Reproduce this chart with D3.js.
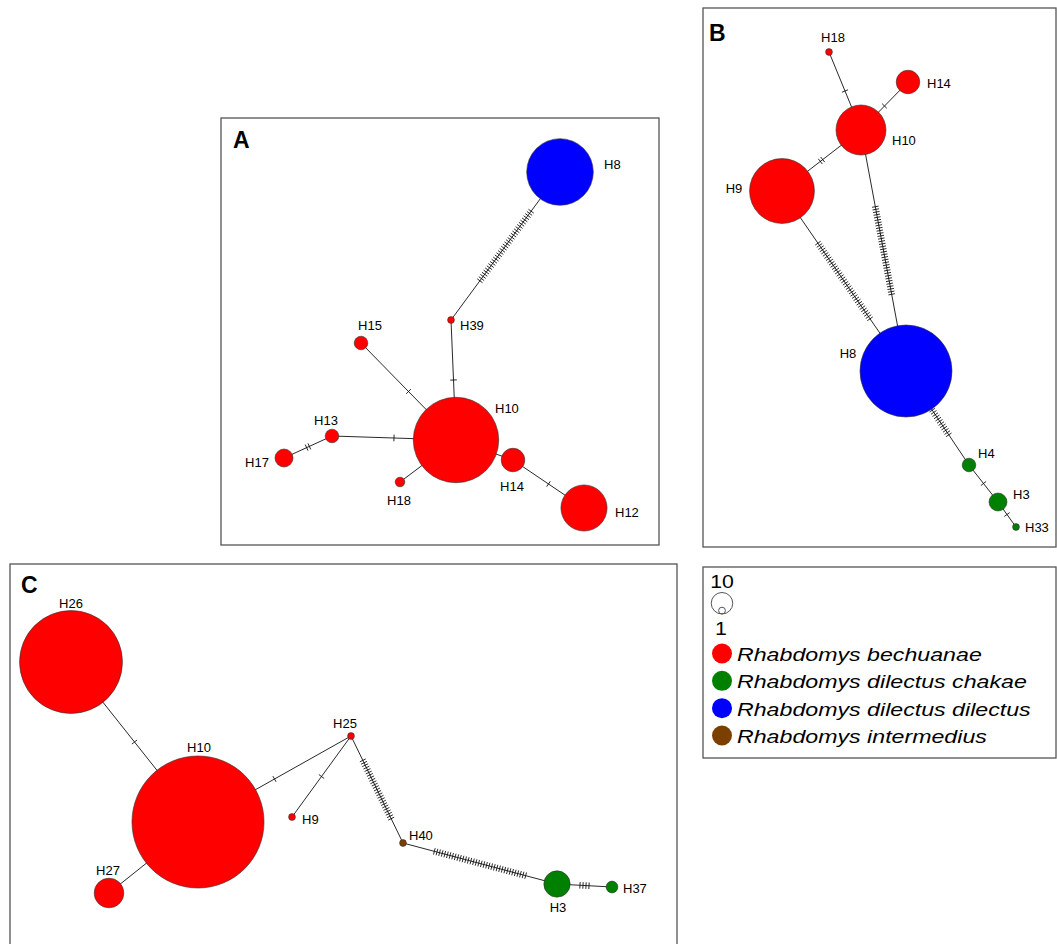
<!DOCTYPE html>
<html><head><meta charset="utf-8">
<script src="https://cdn.jsdelivr.net/npm/d3@7"></script>
<style>body{margin:0;background:#fff}svg{display:block}text{font-family:Arial,"Liberation Sans",sans-serif}</style>
</head><body><svg id="chart" width="1057" height="944"></svg>
<script>
// ---------- DATA ----------
const species = ["Rhabdomys bechuanae","Rhabdomys dilectus chakae","Rhabdomys dilectus dilectus","Rhabdomys intermedius"];
const speciesColors = ["#ff0000","#008000","#0000ff","#7b3f00"];
const sizeLegendValues = [10, 1];
const panelNames = ["A","B","C"];

// Panel A
const haplotypesA = ["H8","H39","H15","H10","H13","H17","H18","H14","H12"];
const speciesA    = [2,0,0,0,0,0,0,0,0];
const countsA     = [96,1,4,158,4,7,2,12,46];
const edgesA      = [["H8","H39",33],["H39","H10",1],["H15","H10",1],["H13","H10",1],["H17","H13",2],["H18","H10",1],["H14","H10",1],["H14","H12",1]];

// Panel B
const haplotypesB = ["H18","H14","H10","H9","H8","H4","H3","H33"];
const speciesB    = [0,0,0,0,2,1,1,1];
const countsB     = [1,12,54,91,183,4,7,1];
const edgesB      = [["H18","H10",1],["H14","H10",1],["H9","H10",2],["H9","H8",35],["H10","H8",34],["H8","H4",16],["H4","H3",1],["H3","H33",1]];

// Panel C
const haplotypesC = ["H26","H10","H27","H25","H9","H40","H3","H37"];
const speciesC    = [0,0,0,0,0,3,1,1];
const countsC     = [229,377,19,1,1,1,15,3];
const edgesC      = [["H26","H10",1],["H27","H10",1],["H10","H25",1],["H9","H25",1],["H25","H40",25],["H40","H3",36],["H3","H37",4]];

// ---------- LAYOUT (network layout units, relative to each panel frame) ----------
const frames = {
  A: {x:221, y:118, w:438, h:427, letter:[12,30]},
  B: {x:703, y:8,   w:353, h:539, letter:[6,33]},
  C: {x:10,  y:564, w:667, h:420, letter:[11,29]},
  L: {x:703, y:567, w:353, h:191}
};
const layoutA = {H8:[339,54],H39:[230,202],H15:[140,225],H10:[235,322],H13:[111,318],H17:[63,340],H18:[179,364],H14:[292,342],H12:[363,390]};
const labelA  = {H8:[44,-3,"start"],H39:[9,10,"start"],H15:[9,-13,"middle"],H10:[39,-27,"start"],H13:[-6,-11,"middle"],H17:[-27,9,"middle"],H18:[-1,23,"middle"],H14:[-1,31,"middle"],H12:[31,9,"start"]};
const layoutB = {H18:[126,44],H14:[205,74],H10:[158,122],H9:[79,183],H8:[203,363],H4:[266,457],H3:[295,494],H33:[313,519]};
const labelB  = {H18:[4,-10,"middle"],H14:[19,6,"start"],H10:[31,15,"start"],H9:[-48,2,"middle"],H8:[-58,-13,"middle"],H4:[9,-7,"start"],H3:[15,-3,"start"],H33:[9,5,"start"]};
const layoutC = {H26:[61,98],H10:[188,258],H27:[99,329],H25:[341,172],H9:[282,253],H40:[393,279],H3:[547,320],H37:[602,323]};
const labelC  = {H26:[0,-54,"middle"],H10:[1,-70,"middle"],H27:[-1,-18,"middle"],H25:[-6,-8,"middle"],H9:[10,7,"start"],H40:[6,-3,"start"],H3:[1,28,"middle"],H37:[11,6,"start"]};

// ---------- SCALES ----------
const color = d3.scaleOrdinal().domain(species).range(speciesColors);
const rScale = d3.scaleSqrt().domain([0, 400]).range([0, 3.4*Math.sqrt(400)]);

const svg = d3.select("#chart");

function drawPanel(name, haps, spIdx, counts, edges, layout, labels) {
  const f = frames[name];
  const xs = d3.scaleLinear().domain([0, f.w]).range([f.x, f.x + f.w]);
  const ys = d3.scaleLinear().domain([0, f.h]).range([f.y, f.y + f.h]);
  const g = svg.append("g");
  g.append("rect").attr("x", f.x).attr("y", f.y).attr("width", f.w).attr("height", f.h)
    .attr("fill", "none").attr("stroke", "#555").attr("stroke-width", 1.3);
  const nodes = haps.map((h, i) => ({id: h, sp: species[spIdx[i]], n: counts[i],
    x: xs(layout[h][0]), y: ys(layout[h][1]), lab: labels[h]}));
  const byId = Object.fromEntries(nodes.map(d => [d.id, d]));
  const links = edges.map(e => ({s: byId[e[0]], t: byId[e[1]], m: e[2]}));
  g.selectAll("line.edge").data(links).join("line").attr("class","edge")
    .attr("x1", d => d.s.x).attr("y1", d => d.s.y).attr("x2", d => d.t.x).attr("y2", d => d.t.y)
    .attr("stroke", "#111").attr("stroke-width", 0.9);
  // mutation hatch marks
  const ticks = [];
  links.forEach(l => {
    const dx = l.t.x - l.s.x, dy = l.t.y - l.s.y, len = Math.hypot(dx, dy);
    const ux = dx/len, uy = dy/len, nx = -uy, ny = ux;
    const mx = (l.s.x + l.t.x)/2, my = (l.s.y + l.t.y)/2;
    const sp = l.m > 4 ? 2.7 : 3, h = 3.3;
    for (let i = 0; i < l.m; i++) {
      const t = (i - (l.m - 1)/2) * sp;
      ticks.push({x1: mx + t*ux - h*nx, y1: my + t*uy - h*ny, x2: mx + t*ux + h*nx, y2: my + t*uy + h*ny});
    }
  });
  g.selectAll("line.tick").data(ticks).join("line").attr("class","tick")
    .attr("x1", d => d.x1).attr("y1", d => d.y1).attr("x2", d => d.x2).attr("y2", d => d.y2)
    .attr("stroke", "#111").attr("stroke-width", 0.9);
  g.selectAll("circle").data(nodes).join("circle")
    .attr("cx", d => d.x).attr("cy", d => d.y).attr("r", d => rScale(d.n))
    .attr("fill", d => color(d.sp)).attr("stroke", "#333").attr("stroke-width", 0.6);
  g.selectAll("text.lab").data(nodes).join("text").attr("class","lab")
    .attr("x", d => d.x + d.lab[0]).attr("y", d => d.y + d.lab[1])
    .attr("text-anchor", d => d.lab[2]).attr("font-size", 13).attr("fill", "#000").text(d => d.id);
  g.append("text").attr("x", f.x + f.letter[0]).attr("y", f.y + f.letter[1])
    .attr("font-size", 23).attr("font-weight", "bold").attr("fill", "#000").text(name);
}

drawPanel("A", haplotypesA, speciesA, countsA, edgesA, layoutA, labelA);
drawPanel("B", haplotypesB, speciesB, countsB, edgesB, layoutB, labelB);
drawPanel("C", haplotypesC, speciesC, countsC, edgesC, layoutC, labelC);

// ---------- LEGEND ----------
const L = frames.L;
const lg = svg.append("g");
lg.append("rect").attr("x", L.x).attr("y", L.y).attr("width", L.w).attr("height", L.h)
  .attr("fill", "none").attr("stroke", "#555").attr("stroke-width", 1.3);
const cx = L.x + 19, baseY = L.y + 47;
lg.append("text").attr("transform", `translate(${cx},${L.y + 21}) scale(1.12,1)`).attr("text-anchor","middle")
  .attr("font-size", 19).text(sizeLegendValues[0]);
lg.selectAll("circle.size").data(sizeLegendValues).join("circle").attr("class","size")
  .attr("cx", cx).attr("cy", d => baseY - rScale(d)).attr("r", d => rScale(d))
  .attr("fill", "none").attr("stroke", "#555").attr("stroke-width", 1);
lg.append("text").attr("transform", `translate(${cx - 1},${L.y + 68}) scale(1.12,1)`).attr("text-anchor","middle")
  .attr("font-size", 19).text(sizeLegendValues[1]);
const rowY = d3.scaleLinear().domain([0, 3]).range([L.y + 86.5, L.y + 168.5]);
const rows = lg.selectAll("g.row").data(species).join("g").attr("class","row");
rows.append("circle").attr("cx", cx).attr("cy", (d,i) => rowY(i)).attr("r", 10)
  .attr("fill", d => color(d));
rows.append("text").attr("transform", (d,i) => `translate(${L.x + 34},${rowY(i) + 7.5}) scale(1.22,1)`)
  .attr("font-size", 19).attr("font-style", "italic").attr("fill", "#000").text(d => d);
</script></body></html>
